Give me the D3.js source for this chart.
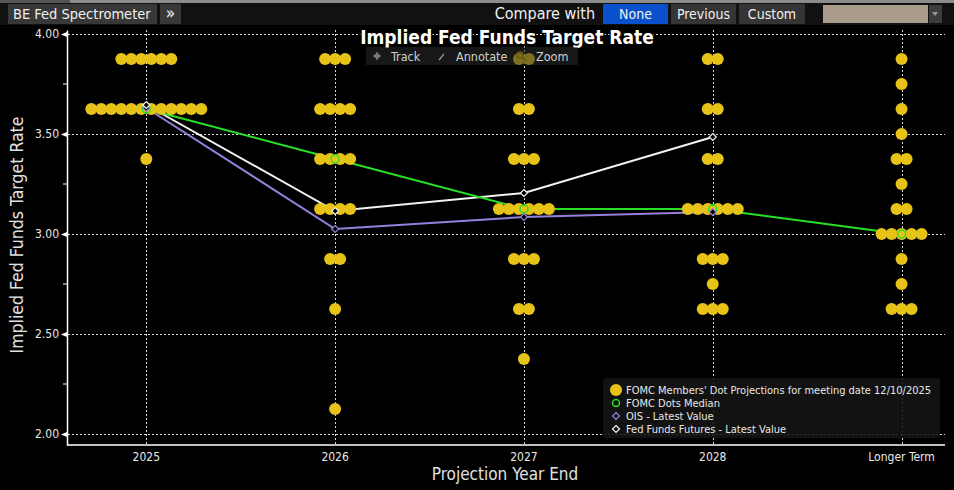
<!DOCTYPE html>
<html lang="en">
<head>
<meta charset="UTF-8">
<title>Implied Fed Funds Target Rate</title>
<style>
  body { margin: 0; padding: 0; background: #000; }
  svg { display: block; font-family: "DejaVu Sans Condensed", "Liberation Sans Narrow", Arial, sans-serif; }
</style>
</head>
<body>
<svg id="chart"></svg>
<script src="https://d3js.org/d3.v7.min.js"></script>
<script>
// categories on the x axis
const categories = ["2025", "2026", "2027", "2028", "Longer Term"];

// FOMC dots: [rate, number of members] for each projection year
const dots2025 = [[3.875, 6], [3.625, 12], [3.375, 1]];
const dots2026 = [[3.875, 3], [3.625, 4], [3.375, 4], [3.125, 4], [2.875, 2], [2.625, 1], [2.125, 1]];
const dots2027 = [[3.875, 2], [3.625, 2], [3.375, 3], [3.125, 6], [2.875, 3], [2.625, 2], [2.375, 1]];
const dots2028 = [[3.875, 2], [3.625, 2], [3.375, 2], [3.125, 6], [2.875, 3], [2.75, 1], [2.625, 3]];
const dotsLonger = [[3.875, 1], [3.75, 1], [3.625, 1], [3.5, 1], [3.375, 2], [3.25, 1], [3.125, 2],
                    [3.0, 5], [2.875, 1], [2.75, 1], [2.625, 3]];
const dotsByCategory = [dots2025, dots2026, dots2027, dots2028, dotsLonger];

// line series (one value per category, shorter series stop early)
const medianValues = [3.625, 3.375, 3.125, 3.125, 3.0];
const oisValues = [3.63, 3.025, 3.085, 3.11];
const futuresValues = [3.645, 3.115, 3.205, 3.485];

const yTicks = [2.0, 2.5, 3.0, 3.5, 4.0];
const yMinorTicks = [2.25, 2.75, 3.25, 3.75];

const legendLabels = [
  "FOMC Members' Dot Projections for meeting date 12/10/2025",
  "FOMC Dots Median",
  "OIS - Latest Value",
  "Fed Funds Futures - Latest Value"
];

const width = 954, height = 490;
const gold = "#e7c317", green = "#27e027", purple = "#9580dc", white = "#f2f2f2";

const svg = d3.select("#chart").attr("width", width).attr("height", height);
svg.append("rect").attr("width", width).attr("height", height).attr("fill", "#000");

const x = d3.scaleLinear().domain([-0.42, 4.23]).range([67, 945]);
const y = d3.scaleLinear().domain([1.945, 4.02]).range([445, 30]);

// ---- top toolbar ----
svg.append("rect").attr("x", 0).attr("y", 0).attr("width", width).attr("height", 3).attr("fill", "#8c8c8c");
svg.append("rect").attr("x", 0).attr("y", 0).attr("width", 70).attr("height", 3).attr("fill", "#555");
svg.append("rect").attr("x", 0).attr("y", 3).attr("width", width).attr("height", 22).attr("fill", "#111");

const buttons = [
  { x: 8, w: 149, text: "BE Fed Spectrometer", fill: "#383838", anchor: "start" },
  { x: 160, w: 21, text: "»", fill: "#383838", anchor: "middle" },
  { x: 603, w: 65, text: "None", fill: "#0a50cc", anchor: "middle" },
  { x: 671, w: 65, text: "Previous", fill: "#353535", anchor: "middle" },
  { x: 739, w: 66, text: "Custom", fill: "#353535", anchor: "middle" }
];
buttons.forEach(b => {
  svg.append("rect").attr("x", b.x).attr("y", 4).attr("width", b.w).attr("height", 20).attr("fill", b.fill);
  svg.append("text")
    .attr("x", b.anchor === "start" ? b.x + 5 : b.x + b.w / 2)
    .attr("y", 19)
    .attr("text-anchor", b.anchor)
    .attr("fill", "#f0f0f0")
    .style("font-size", b.text === "»" ? "17px" : (b.anchor === "start" ? "14.5px" : "14px"))
    .text(b.text);
});
svg.append("text").attr("x", 595).attr("y", 19).attr("text-anchor", "end")
  .attr("fill", "#f0f0f0").style("font-size", "16px").text("Compare with");
svg.append("rect").attr("x", 823).attr("y", 5).attr("width", 105).attr("height", 18).attr("fill", "#a99c8b");
svg.append("rect").attr("x", 929).attr("y", 5).attr("width", 13).attr("height", 18).attr("fill", "#3c3c3c");
svg.append("path").attr("d", "M932,12 L938,12 L935,16 Z").attr("fill", "#999");

// ---- grid ----
const grid = svg.append("g").attr("stroke", "#d8d8d8").attr("stroke-width", 1).attr("stroke-dasharray", "2,2");
grid.selectAll(".hg").data(yTicks).join("line")
  .attr("x1", 68).attr("x2", 945)
  .attr("y1", d => Math.round(y(d)) + 0.5).attr("y2", d => Math.round(y(d)) + 0.5);
grid.selectAll(".vg").data(categories).join("line")
  .attr("x1", (d, i) => Math.round(x(i)) + 0.5).attr("x2", (d, i) => Math.round(x(i)) + 0.5)
  .attr("y1", 30).attr("y2", 445);

// ---- axes ----
const yAxis = svg.append("g").attr("transform", "translate(67,0)")
  .call(d3.axisLeft(y).tickValues(yTicks).tickFormat(d3.format(".2f")).tickSize(0).tickPadding(8));
yAxis.select(".domain").attr("stroke", "#fff").attr("stroke-width", 1.5);
yAxis.selectAll(".tick text").attr("fill", "#e8e8e8").style("font-size", "12px")
  .style("font-family", "\"DejaVu Sans Condensed\", Arial, sans-serif");
yAxis.selectAll(".tick").append("path").attr("d", "M0,-2.5 L-6,0 L0,2.5 Z").attr("fill", "#fff");
svg.append("g").selectAll("line").data(yMinorTicks).join("line")
  .attr("x1", 63).attr("x2", 67)
  .attr("y1", d => y(d)).attr("y2", d => y(d))
  .attr("stroke", "#fff").attr("stroke-width", 1);

svg.append("line").attr("x1", 67).attr("x2", 945).attr("y1", 445).attr("y2", 445)
  .attr("stroke", "#fff").attr("stroke-width", 1.5);
svg.append("g").selectAll("text").data(categories).join("text")
  .attr("x", (d, i) => x(i)).attr("y", 461)
  .attr("text-anchor", "middle").attr("fill", "#e8e8e8").style("font-size", "12px")
  .text(d => d);

svg.append("text").attr("x", 505).attr("y", 480).attr("text-anchor", "middle")
  .attr("fill", "#e0e0e0").style("font-size", "17px").text("Projection Year End");
svg.append("text").attr("transform", "translate(23,235) rotate(-90)").attr("text-anchor", "middle")
  .attr("fill", "#e0e0e0").style("font-size", "17.5px").text("Implied Fed Funds Target Rate");

// ---- lines ----
const line = d3.line().x((d, i) => x(i)).y(d => y(d));
[[futuresValues, white], [oisValues, purple], [medianValues, green]].forEach(([vals, col]) => {
  svg.append("path").datum(vals).attr("d", line)
    .attr("fill", "none").attr("stroke", col).attr("stroke-width", 2);
});

// ---- dots ----
const dotSpacing = 10;
const dotData = [];
dotsByCategory.forEach((rows, ci) => {
  rows.forEach(([rate, n]) => {
    for (let k = 0; k < n; k++) dotData.push({ ci, rate, offset: (k - (n - 1) / 2) * dotSpacing });
  });
});
svg.append("g").selectAll("circle").data(dotData).join("circle")
  .attr("cx", d => x(d.ci) + d.offset).attr("cy", d => y(d.rate)).attr("r", 6)
  .attr("fill", gold);

// ---- markers ----
svg.append("g").selectAll("circle").data(medianValues).join("circle")
  .attr("cx", (d, i) => x(i)).attr("cy", d => y(d)).attr("r", 4)
  .attr("fill", "none").attr("stroke", green).attr("stroke-width", 1.5);
const diamond = (cx, cy, r) => `M${cx},${cy - r} L${cx + r},${cy} L${cx},${cy + r} L${cx - r},${cy} Z`;
[[oisValues, purple], [futuresValues, white]].forEach(([vals, col]) => {
  svg.append("g").selectAll("path").data(vals).join("path")
    .attr("d", (d, i) => diamond(x(i), y(d), 3.5))
    .attr("fill", "#000").attr("stroke", col).attr("stroke-width", 1.2);
});

// ---- title and floating tools ----
svg.append("text").attr("x", 507).attr("y", 44).attr("text-anchor", "middle")
  .attr("fill", "#fff").style("font-size", "19px").style("font-weight", "bold")
  .attr("stroke", "#000").attr("stroke-width", 3).attr("paint-order", "stroke")
  .text("Implied Fed Funds Target Rate");

const tools = svg.append("g");
tools.append("rect").attr("x", 366).attr("y", 47).attr("width", 212).attr("height", 18)
  .attr("fill", "#2a2a2a").attr("opacity", 0.55);
tools.append("path").attr("d", "M373,56 L381,56 M377,52 L377,60").attr("stroke", "#999").attr("stroke-width", 1);
tools.append("circle").attr("cx", 377).attr("cy", 56).attr("r", 2.2).attr("fill", "none").attr("stroke", "#999");
tools.append("path").attr("d", "M439,60 L444,54").attr("stroke", "#999").attr("stroke-width", 1.2);
tools.append("circle").attr("cx", 520).attr("cy", 55).attr("r", 3).attr("fill", "none").attr("stroke", "#6b5a10").attr("stroke-width", 1.5);
tools.append("path").attr("d", "M522,57 L526,61").attr("stroke", "#6b5a10").attr("stroke-width", 2);
[["Track", 391], ["Annotate", 456], ["Zoom", 536]].forEach(([t, tx]) => {
  tools.append("text").attr("x", tx).attr("y", 61).attr("fill", "#cfcfcf").style("font-size", "12.5px").text(t);
});

// ---- legend ----
const legend = svg.append("g");
legend.append("rect").attr("x", 603).attr("y", 378).attr("width", 337).attr("height", 60).attr("rx", 3)
  .attr("fill", "#141414").attr("opacity", 0.88);
legendLabels.forEach((t, i) => {
  const ly = 390 + i * 13;
  legend.append("text").attr("x", 626).attr("y", ly + 4).attr("fill", "#e8e8e8")
    .style("font-size", "11px").text(t);
});
legend.append("circle").attr("cx", 616).attr("cy", 390).attr("r", 6).attr("fill", gold);
legend.append("circle").attr("cx", 616).attr("cy", 403).attr("r", 3.5)
  .attr("fill", "none").attr("stroke", green).attr("stroke-width", 1.5);
legend.append("path").attr("d", diamond(616, 416, 3.5)).attr("fill", "none").attr("stroke", purple).attr("stroke-width", 1.2);
legend.append("path").attr("d", diamond(616, 429, 3.5)).attr("fill", "none").attr("stroke", white).attr("stroke-width", 1.2);
</script>
</body>
</html>
